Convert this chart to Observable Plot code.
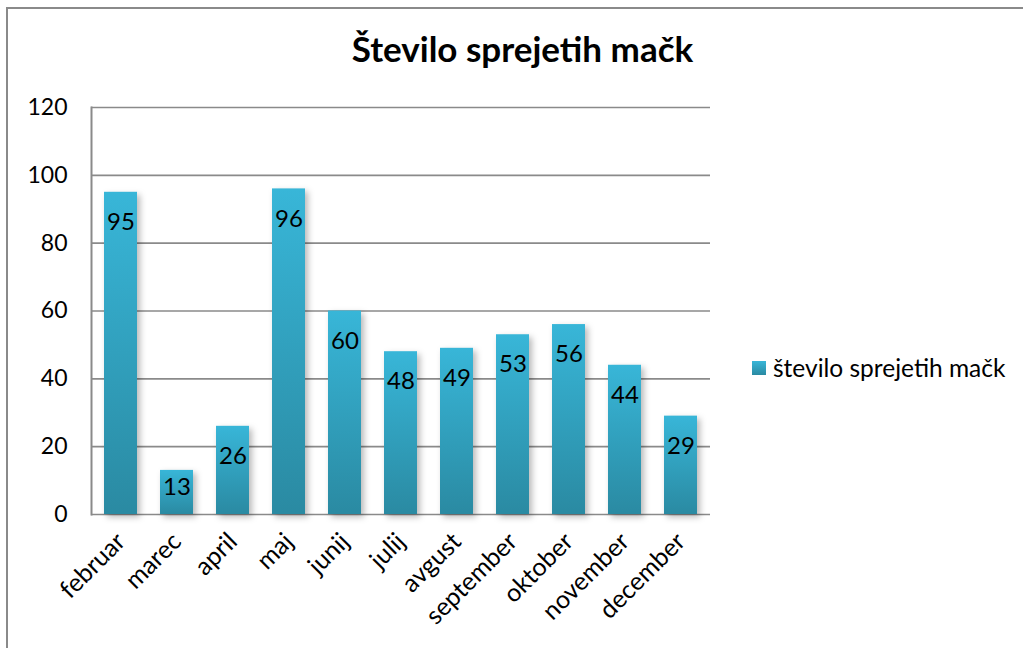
<!DOCTYPE html>
<html>
<head>
<meta charset="utf-8">
<script src="https://cdn.jsdelivr.net/npm/d3@7"></script>
<script src="https://cdn.jsdelivr.net/npm/@observablehq/plot@0.6"></script>
<style>
  html, body { margin: 0; padding: 0; background: #fff; }
  body { width: 1023px; height: 648px; position: relative; overflow: hidden; font-family: Lato, "Open Sans", sans-serif; }
  #frame { position: absolute; left: 6px; top: 7px; width: 1100px; height: 700px; border-top: 2px solid #8a8a8a; border-left: 2px solid #8a8a8a; box-sizing: border-box; }
  #title { position: absolute; left: 0; width: 1045px; top: 27px; text-align: center; font-weight: bold; font-size: 35px; color: #000; }
  #chart { position: absolute; left: 0; top: 0; }
  #legend { position: absolute; left: 752px; top: 353px; display: flex; align-items: center; font-size: 24.5px; color: #000; }
  #legend .sw { width: 14px; height: 14px; background: linear-gradient(#38b6d8, #2a8aa2); margin-right: 7px; }
  #chart rect.bar { filter: drop-shadow(3px 3px 3px rgba(0,0,0,0.28)); }
  #chart g.xlab text { font-size: 25px; }
</style>
</head>
<body>
<div id="frame"></div>
<div id="chart"></div>
<div id="title">Število sprejetih mačk</div>
<div id="legend"><div class="sw"></div><span>število sprejetih mačk</span></div>
<script>
const months = ["februar", "marec", "april", "maj", "junij", "julij", "avgust", "september", "oktober", "november", "december"];
const values = [95, 13, 26, 96, 60, 48, 49, 53, 56, 44, 29];
const yTicks = [0, 20, 40, 60, 80, 100, 120];
const seriesName = "število sprejetih mačk";

const data = months.map((m, i) => ({month: m, value: values[i]}));

const plot = Plot.plot({
  width: 1023,
  height: 648,
  marginLeft: 91,
  marginRight: 313,
  marginTop: 107,
  marginBottom: 134,
  style: { fontFamily: "Lato, 'Open Sans', sans-serif", fontSize: "23px", color: "#000", background: "transparent" },
  x: { domain: months, paddingInner: 0.41, paddingOuter: 0.205, label: null },
  y: { domain: [0, 120], ticks: yTicks, label: null },
  marks: [
    Plot.ruleY(yTicks, { stroke: "#8a8a8a", strokeWidth: 1.6, strokeOpacity: 1 }),
    Plot.frame({ anchor: "left", stroke: "#8a8a8a", strokeWidth: 2, strokeOpacity: 1 }),
    Plot.barY(data, { x: "month", y: "value", fill: "url(#barGrad)", className: "bars" }),
    Plot.text(data, { x: "month", y: d => d.value < 20 ? d.value + 4 : d.value, text: d => String(d.value), dy: 30, fontSize: 24, fill: "#000" }),
    Plot.axisY({ ticks: yTicks, tickSize: 0, tickPadding: 24, fontSize: 23, label: null }),
    Plot.axisX({ tickSize: 0, tickPadding: 23, tickRotate: -45, fontSize: 25, label: null, className: "xlab" })
  ]
});

const svg = d3.select(plot);
const defs = svg.insert("defs", ":first-child");
const grad = defs.append("linearGradient").attr("id", "barGrad").attr("x1", 0).attr("y1", 0).attr("x2", 0).attr("y2", 1);
grad.append("stop").attr("offset", "0%").attr("stop-color", "#38b6d8");
grad.append("stop").attr("offset", "100%").attr("stop-color", "#2a8aa2");
svg.selectAll("g.bars rect").classed("bar", true);

document.getElementById("chart").appendChild(plot);
</script>
</body>
</html>
